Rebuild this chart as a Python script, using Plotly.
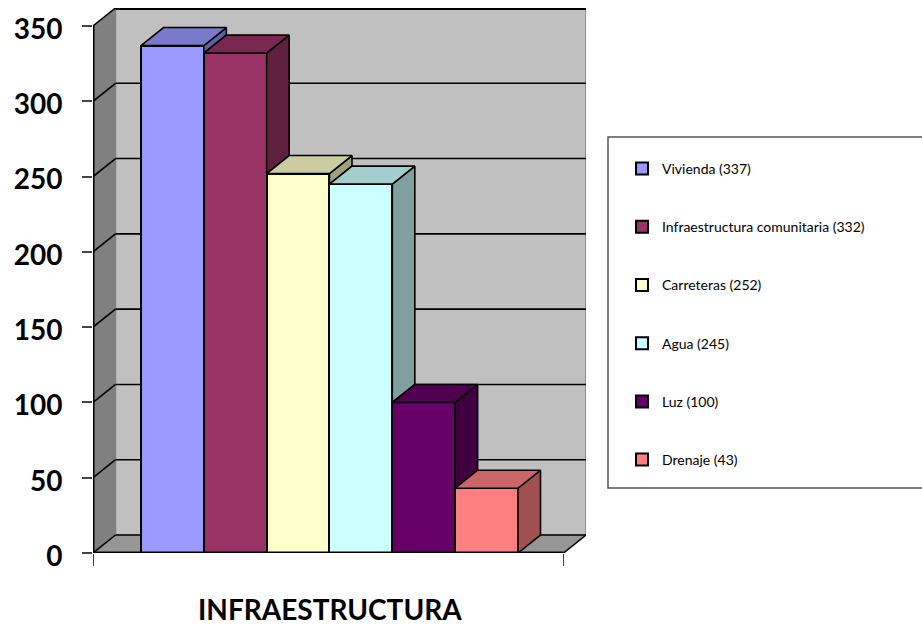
import plotly.graph_objects as go

categories = ["Vivienda", "Infraestructura comunitaria", "Carreteras", "Agua", "Luz", "Drenaje"]
values = [337, 332, 252, 245, 100, 43]
colors = ["#9999FF", "#993366", "#FFFFCC", "#CCFFFF", "#660066", "#FF8080"]
y_ticks = [0, 50, 100, 150, 200, 250, 300, 350]
axis_title = "INFRAESTRUCTURA"

# frame geometry (pixels in the page)
L, R, T, B = 93, 586, 8, 553
PX_X = 62.83
PX_Y = 527 / 350
DX = 22.5 / PX_X
DY = 18 / PX_Y
x_min = -0.5 - 48 / PX_X
x_max = x_min + (R - L) / PX_X
y_max = (B - T) / PX_Y
front_r = x_max - DX
W = R - L
H = B - T


def shade(hex_color, k):
    r, g, b = (int(hex_color[i:i + 2], 16) for i in (1, 3, 5))
    return f"rgb({int(r * k)},{int(g * k)},{int(b * k)})"


def px(page_x):
    return (page_x - L) / W


def py(page_y):
    return (B - page_y) / H


fig = go.Figure()

# front faces: real bars
for i, (c, v, col) in enumerate(zip(categories, values, colors)):
    fig.add_trace(go.Bar(
        x=[i], y=[v], width=1, name=f"{c} ({v})", legendgroup=c,
        marker=dict(color=col, line=dict(color="black", width=2)),
    ))

# 3D side and top faces derived from the values
for i, v in enumerate(values):
    r = i + 0.5
    l = i - 0.5
    nxt = values[i + 1] if i + 1 < len(values) else 0
    fig.add_trace(go.Scatter(
        x=[r, r + DX, r + DX, r, r], y=[v, v + DY, nxt + DY, nxt, v],
        mode="lines", fill="toself", fillcolor=shade(colors[i], 0.63),
        line=dict(color="black", width=1.6), showlegend=False, hoverinfo="skip",
    ))
    fig.add_trace(go.Scatter(
        x=[l, l + DX, r + DX, r, l], y=[v, v + DY, v + DY, v, v],
        mode="lines", fill="toself", fillcolor=shade(colors[i], 0.8),
        line=dict(color="black", width=1.6), showlegend=False, hoverinfo="skip",
    ))

shapes = [
    # back wall, left wall, floor
    dict(type="rect", x0=x_min + DX, x1=x_max, y0=DY, y1=y_max, layer="below",
         fillcolor="#C0C0C0", line=dict(color="#808080", width=1.5)),
    dict(type="path", layer="below", fillcolor="#808080", line=dict(width=0),
         path=f"M{x_min},0 L{x_min + DX},{DY} L{x_min + DX},{y_max} L{x_min},{y_ticks[-1]} Z"),
    dict(type="path", layer="below", fillcolor="#969696", line=dict(width=0),
         path=f"M{x_min},0 L{x_min + DX},{DY} L{x_max},{DY} L{front_r},0 Z"),
    # top edge of the back wall
    dict(type="line", layer="below", x0=x_min + DX, x1=x_max, y0=y_max, y1=y_max,
         line=dict(color="black", width=4)),
    # front edges
    dict(type="line", layer="below", x0=x_min, x1=x_min, y0=0, y1=y_ticks[-1],
         line=dict(color="black", width=3)),
    dict(type="line", layer="above", x0=x_min, x1=front_r, y0=0, y1=0,
         line=dict(color="black", width=3)),
    dict(type="line", layer="below", x0=front_r, x1=x_max, y0=0, y1=DY,
         line=dict(color="black", width=1.6)),
    # legend box
    dict(type="rect", xref="paper", yref="paper", x0=px(608), x1=px(930), y0=py(488), y1=py(137),
         fillcolor="white", line=dict(color="#555555", width=1.5), layer="below"),
]
# gridlines over the back and left walls
for t in y_ticks:
    shapes.append(dict(type="line", layer="below", x0=x_min + DX, x1=x_max, y0=t + DY, y1=t + DY,
                       line=dict(color="black", width=1.6)))
    shapes.append(dict(type="line", layer="below", x0=x_min, x1=x_min + DX, y0=t, y1=t + DY,
                       line=dict(color="black", width=1.6)))

fig.update_layout(
    width=922, height=626,
    margin=dict(l=L, r=922 - R, t=T, b=626 - B, autoexpand=False),
    paper_bgcolor="white", plot_bgcolor="rgba(0,0,0,0)",
    barmode="overlay", bargap=0, showlegend=True, shapes=shapes,
    font=dict(family="Lato", color="black"),
    xaxis=dict(range=[x_min, x_max], showgrid=False, zeroline=False, showticklabels=False,
               ticks="outside", ticklen=12, tickwidth=1.2, tickcolor="#444444",
               tickvals=[x_min, front_r]),
    yaxis=dict(range=[0, y_max], showgrid=False, zeroline=False, tickvals=y_ticks,
               ticks="outside", ticklen=10, tickwidth=1.5, tickcolor="#444444",
               ticklabelstandoff=14, ticklabelshift=3,
               tickfont=dict(family="Lato", size=28, color="black", weight="bold")),
    legend=dict(xref="container", yref="container", x=622 / 922, xanchor="left",
                y=1 - 153 / 626, yanchor="top", bgcolor="rgba(0,0,0,0)", borderwidth=0,
                tracegroupgap=37, font=dict(family="Lato", size=14, color="black"),
                traceorder="grouped", maxheight=460),
    annotations=[dict(text=f"<b>{axis_title}</b>", xref="x", yref="paper", showarrow=False,
                      x=(x_min + front_r) / 2 + 0.03, y=py(609), yanchor="middle",
                      font=dict(family="Lato", size=28, color="black"))],
)

fig.write_html("out.html", post_script="document.body.style.margin='0';",
               config={"displayModeBar": False})
